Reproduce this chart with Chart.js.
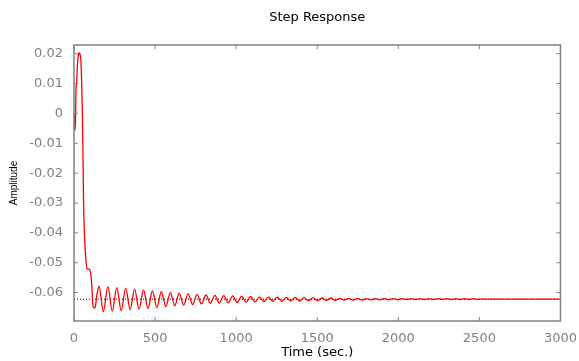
<!DOCTYPE html>
<html lang="en">
<head>
    <meta charset="UTF-8">
    <title>Step Response</title>
    <style>
        body {
            margin: 0;
            background: #fff;
        }
        canvas {
            display: block;
        }
    </style>
    <script src="https://cdn.jsdelivr.net/npm/chart.js"></script>
</head>
<body>
    <canvas id="step-chart" width="579" height="361"></canvas>
    <script>
        // step response (time in sec., amplitude)
        const timeValues = [
            0, 4, 9, 12, 17, 21, 27, 33, 38, 42, 47, 52, 56, 59, 65, 72, 80, 95, 103, 110, 117, 129, 142,
            154, 181, 209, 236, 264, 291, 319, 346, 374, 401, 429, 456, 484, 511, 539, 566, 594, 621,
            649, 676, 704, 731, 759, 786, 814, 841, 869, 896, 924, 951, 979, 1006, 1034, 1061, 1089,
            1116, 1144, 1171, 1199, 1226, 1254, 1281, 1309, 1336, 1364, 1391, 1419, 1446, 1474, 1501,
            1529, 1556, 1584, 1611, 1639, 1666, 1694, 1721, 1749, 1776, 1804, 1831, 1859, 1886, 1914,
            1941, 1969, 1996, 2024, 2051, 2079, 2106, 2134, 2161, 2189, 2216, 2244, 2271, 2299, 2326,
            2354, 2381, 2409, 2436, 2464, 2491, 2519, 2546, 3000
        ];
        const amplitudeValues = [
            0, -0.0057, -0.003, 0.007, 0.011, 0.016, 0.0195, 0.0203, 0.0195, 0.018, 0.011, -0.001, -0.016,
            -0.03, -0.041, -0.048, -0.0519, -0.0522, -0.0535, -0.058, -0.0645, -0.0652, -0.0605,
            -0.0578, -0.0664, -0.0580, -0.0662, -0.0583, -0.0660, -0.0585, -0.0657, -0.0588, -0.0655,
            -0.0591, -0.0653, -0.0594, -0.0650, -0.0597, -0.0647, -0.0600, -0.0644, -0.0602, -0.0642,
            -0.0604, -0.0640, -0.0606, -0.0638, -0.0608, -0.0636, -0.0609, -0.0635, -0.0610, -0.0634,
            -0.0611, -0.0633, -0.0612, -0.0632, -0.0613, -0.0631, -0.0614, -0.0630, -0.0615, -0.0629,
            -0.0615, -0.0629, -0.0616, -0.0628, -0.0616, -0.0628, -0.0617, -0.0627, -0.0617, -0.0627,
            -0.0618, -0.0626, -0.0618, -0.0626, -0.0619, -0.0625, -0.0619, -0.0625, -0.0619, -0.0625,
            -0.0620, -0.0624, -0.0620, -0.0624, -0.0620, -0.0624, -0.0620, -0.0624, -0.0620, -0.0623,
            -0.0620, -0.0623, -0.0620, -0.0623, -0.0620, -0.0623, -0.0620, -0.0623, -0.0620, -0.0623,
            -0.0620, -0.0623, -0.0620, -0.0623, -0.0620, -0.0623, -0.0621, -0.0622, -0.0622
        ];
        const steadyState = -0.0622;
        const timeRange = [0, 3000];
        const amplitudeRange = [-0.0695, 0.0229];

        const responsePoints = timeValues.map((t, i) => ({ x: t, y: amplitudeValues[i] }));
        const steadyPoints = timeRange.map(t => ({ x: t, y: steadyState }));

        // gray box with inward tick marks on all four sides
        const framePlugin = {
            id: 'frame',
            afterDatasetsDraw(chart) {
                const { ctx, chartArea: a, scales: { x, y } } = chart;
                ctx.save();
                ctx.strokeStyle = '#808080';
                ctx.lineWidth = 1;
                ctx.beginPath();
                x.ticks.forEach(t => {
                    const px = x.getPixelForValue(t.value);
                    ctx.moveTo(px, a.bottom); ctx.lineTo(px, a.bottom - 4);
                    ctx.moveTo(px, a.top); ctx.lineTo(px, a.top + 4);
                });
                y.ticks.forEach(t => {
                    const py = y.getPixelForValue(t.value);
                    ctx.moveTo(a.left, py); ctx.lineTo(a.left + 4, py);
                    ctx.moveTo(a.right, py); ctx.lineTo(a.right - 4, py);
                });
                ctx.stroke();
                ctx.lineWidth = 1.5;
                ctx.strokeRect(a.left, a.top, a.right - a.left, a.bottom - a.top);
                ctx.restore();
            }
        };

        const tickFont = { family: 'DejaVu Sans', size: 13 };

        new Chart(document.getElementById('step-chart'), {
            type: 'line',
            data: {
                datasets: [{
                    data: steadyPoints,
                    borderColor: '#000000',
                    borderWidth: 1,
                    borderDash: [1, 2],
                    pointRadius: 0,
                    order: 2
                }, {
                    data: responsePoints,
                    borderColor: '#ff0000',
                    borderWidth: 1.3,
                    pointRadius: 0,
                    cubicInterpolationMode: 'monotone',
                    order: 1
                }]
            },
            options: {
                responsive: false,
                animation: false,
                layout: { padding: { left: 0, right: 18, top: 0, bottom: 0 } },
                plugins: {
                    legend: { display: false },
                    tooltip: { enabled: false },
                    title: {
                        display: true,
                        text: 'Step Response',
                        fullSize: false,
                        color: '#000',
                        font: { family: 'DejaVu Sans', size: 13, weight: 'normal', lineHeight: 1.2 },
                        padding: { top: 10, bottom: 19.4 }
                    }
                },
                scales: {
                    x: {
                        type: 'linear',
                        min: timeRange[0],
                        max: timeRange[1],
                        grid: { display: false },
                        border: { display: false },
                        ticks: {
                            stepSize: 500,
                            color: '#808080',
                            font: tickFont,
                            padding: 2,
                            maxRotation: 0,
                            callback: v => String(v)
                        },
                        title: {
                            display: true,
                            text: 'Time (sec.)',
                            color: '#000',
                            font: { family: 'DejaVu Sans', size: 13 },
                            padding: { top: 0, bottom: 1 }
                        },
                        afterFit(scale) { scale.height = 40; }
                    },
                    y: {
                        type: 'linear',
                        min: amplitudeRange[0],
                        max: amplitudeRange[1],
                        grid: { display: false },
                        border: { display: false },
                        ticks: {
                            stepSize: 0.01,
                            includeBounds: false,
                            color: '#808080',
                            font: tickFont,
                            padding: 3,
                            callback: v => String(Math.round(v * 100) / 100 || 0)
                        },
                        title: {
                            display: true,
                            text: 'Amplitude',
                            color: '#000',
                            font: { family: 'Liberation Sans', size: 10 },
                            padding: { top: 8, bottom: 0 }
                        },
                        afterFit(scale) { scale.width = 74; }
                    }
                }
            },
            plugins: [framePlugin]
        });
    </script>
</body>
</html>
